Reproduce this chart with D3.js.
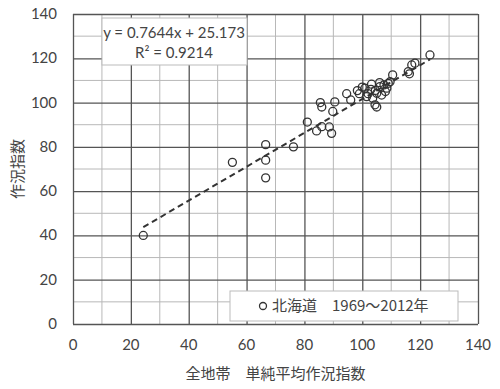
<!DOCTYPE html>
<html>
<head>
<meta charset="utf-8">
<script src="https://cdn.jsdelivr.net/npm/d3@7"></script>
<style>
  body { margin: 0; background: #fff; }
  text { font-family: Lato, "Noto Sans CJK JP", sans-serif; fill: #444; }
  .jp { font-family: "Noto Sans CJK JP", sans-serif; }
</style>
</head>
<body>
<div id="chart"></div>
<script>
// data (x = 全地帯 単純平均作況指数, y = 北海道 作況指数)
const xVals = [24.3, 55.1, 66.6, 66.6, 66.6, 76.2, 81, 84.2, 86, 88.6, 89.4, 89.8,
  85.5, 86, 90.5, 94.6, 96, 98.3, 100.9, 101.5, 103.6, 103.2, 105, 106.1, 106.7,
  104.4, 105, 108, 108.5, 109, 109.6, 110.5, 107.5, 115.9, 116.3, 117.1, 118.2,
  123.4, 102, 100, 103, 104.5, 99, 106];
const yVals = [40, 73, 81, 74, 66, 80, 91.2, 87.2, 89.1, 89, 86.1, 96,
  100, 98, 100.3, 104, 101.2, 105.4, 106.5, 102.7, 102, 108.3, 104.2, 107.2, 103.4,
  99, 98, 105, 106.5, 108.7, 109.4, 112.5, 108, 114, 113, 117, 117.8,
  121.5, 104, 107, 106, 105.5, 104, 109];
const xTicks = [0, 20, 40, 60, 80, 100, 120, 140];
const yTicks = [0, 20, 40, 60, 80, 100, 120, 140];
const slope = 0.7644, intercept = 25.173, r2 = 0.9214;

const width = 500, height = 389;
const margin = {left: 73, right: 22, top: 14, bottom: 65};

const svg = d3.select("#chart").append("svg")
  .attr("width", width).attr("height", height);

const x = d3.scaleLinear().domain([0, 140]).range([margin.left, width - margin.right]);
const y = d3.scaleLinear().domain([0, 140]).range([height - margin.bottom, margin.top]);

// minor grid
const minor = d3.range(10, 140, 20);
svg.append("g").selectAll("line").data(minor).join("line")
  .attr("x1", d => x(d)).attr("x2", d => x(d))
  .attr("y1", y(0)).attr("y2", y(140))
  .attr("stroke", "#b8b8b8").attr("stroke-width", 1);
svg.append("g").selectAll("line").data(minor).join("line")
  .attr("y1", d => y(d)).attr("y2", d => y(d))
  .attr("x1", x(0)).attr("x2", x(140))
  .attr("stroke", "#b8b8b8").attr("stroke-width", 1);

// major grid
svg.append("g").call(d3.axisBottom(x).tickValues(xTicks).tickSize(-(y(0) - y(140))).tickFormat(""))
  .attr("transform", `translate(0,${y(0)})`)
  .call(g => g.select(".domain").remove())
  .selectAll("line").attr("stroke", "#555").attr("stroke-width", 1.3);
svg.append("g").call(d3.axisLeft(y).tickValues(yTicks).tickSize(-(x(140) - x(0))).tickFormat(""))
  .attr("transform", `translate(${x(0)},0)`)
  .call(g => g.select(".domain").remove())
  .selectAll("line").attr("stroke", "#555").attr("stroke-width", 1.3);

// tick labels
svg.append("g").selectAll("text").data(xTicks).join("text")
  .attr("x", d => x(d)).attr("y", 350)
  .attr("text-anchor", "middle").attr("font-size", 15).text(d => d);
svg.append("g").selectAll("text").data(yTicks).join("text")
  .attr("x", 57).attr("y", d => y(d) + 5)
  .attr("text-anchor", "end").attr("font-size", 15).text(d => d);

// axis titles
svg.append("text").attr("class", "jp")
  .attr("x", (x(0) + x(140)) / 2).attr("y", 379)
  .attr("text-anchor", "middle").attr("font-size", 15)
  .text("全地帯　単純平均作況指数");
svg.append("text").attr("class", "jp")
  .attr("transform", `translate(23,${(y(0) + y(140)) / 2}) rotate(-90)`)
  .attr("text-anchor", "middle").attr("font-size", 15)
  .text("作況指数");

// trend line
const xr = d3.extent(xVals);
svg.append("line")
  .attr("x1", x(xr[0])).attr("y1", y(slope * xr[0] + intercept))
  .attr("x2", x(xr[1])).attr("y2", y(slope * xr[1] + intercept))
  .attr("stroke", "#333").attr("stroke-width", 2).attr("stroke-dasharray", "6,4");

// points
svg.append("g").selectAll("circle").data(xVals).join("circle")
  .attr("cx", d => x(d)).attr("cy", (d, i) => y(yVals[i]))
  .attr("r", 4).attr("fill", "none").attr("stroke", "#333").attr("stroke-width", 1.3);

// equation box
svg.append("rect").attr("x", 102).attr("y", 18).attr("width", 145).attr("height", 47)
  .attr("fill", "#fff").attr("stroke", "#bbb");
svg.append("text").attr("x", 174).attr("y", 38).attr("text-anchor", "middle")
  .attr("font-size", 15).text(`y = ${slope}x + ${intercept}`);
svg.append("text").attr("x", 174).attr("y", 58).attr("text-anchor", "middle")
  .attr("font-size", 15).text(`R² = ${r2}`);

// legend
svg.append("rect").attr("x", 230).attr("y", 291).attr("width", 228).attr("height", 30)
  .attr("fill", "#fff").attr("stroke", "#bbb");
svg.append("circle").attr("cx", 263).attr("cy", 306).attr("r", 3.5)
  .attr("fill", "none").attr("stroke", "#333").attr("stroke-width", 1.3);
svg.append("text").attr("class", "jp").attr("x", 272).attr("y", 311)
  .attr("font-size", 15).text("北海道　1969～2012年");
</script>
</body>
</html>
